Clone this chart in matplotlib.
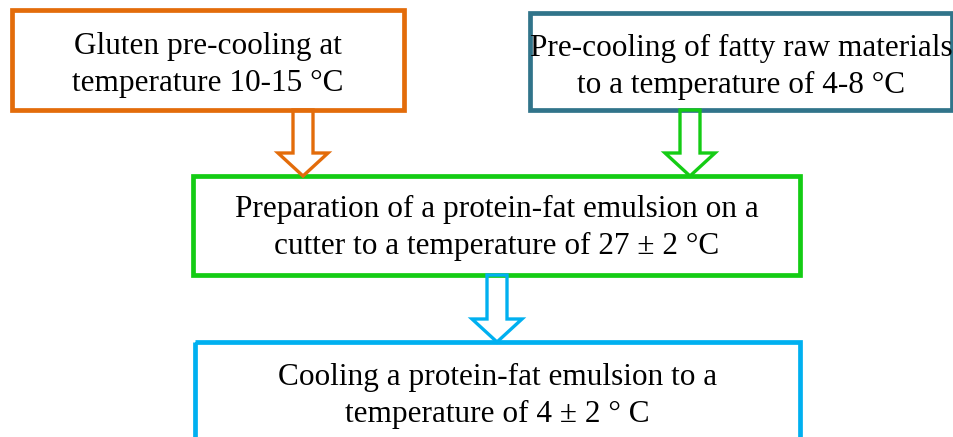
import matplotlib.pyplot as plt
from matplotlib.patches import Rectangle, FancyArrow

# Flowchart content
step_labels = [
    "Gluten pre-cooling at\ntemperature 10-15 \u00b0C",
    "Pre-cooling of fatty raw materials\nto a temperature of 4-8 \u00b0C",
    "Preparation of a protein-fat emulsion on a\ncutter to a temperature of 27 \u00b1 2 \u00b0C",
    "Cooling a protein-fat emulsion to a\ntemperature of 4 \u00b1 2 \u00b0 C",
]
step_colors = ["#E36C0A", "#31748A", "#14CC14", "#00B0F0"]
# (from step, to step) pairs
links = [(0, 2), (1, 2), (2, 3)]
link_colors = ["#E36C0A", "#14CC14", "#00B0F0"]

# layout in pixels: left, top, right, bottom, and text centre y
box_px = [
    (12, 10, 404, 110),
    (530, 13, 952, 110),
    (193, 176, 800, 275),
    (195, 342, 800, 445),
]
text_y = [65, 67, 228, 396]
arrow_x = [303, 690, 497]

fig = plt.figure(figsize=(9.54, 4.37), dpi=100)
ax = fig.add_axes([0, 0, 1, 1])
ax.set_xlim(0, 954)
ax.set_ylim(437, 0)
ax.axis("off")

for (l, t, r, b), ty, label, color in zip(box_px, text_y, step_labels, step_colors):
    ax.add_patch(Rectangle((l, t), r - l, b - t, fill=False,
                           edgecolor=color, linewidth=3.4, joinstyle="miter"))
    ax.text((l + r) / 2, ty, label,
            ha="center", va="center", fontsize=22.5, linespacing=1.4,
            family="Liberation Serif", color="black")

for (src, dst), x, color in zip(links, arrow_x, link_colors):
    y0 = box_px[src][3]
    y1 = box_px[dst][1]
    ax.add_patch(FancyArrow(x, y0, 0, y1 - y0, width=20, head_width=50,
                            head_length=23, length_includes_head=True,
                            fill=False, edgecolor=color, linewidth=2.4))

fig.savefig("out.png", dpi=100)
